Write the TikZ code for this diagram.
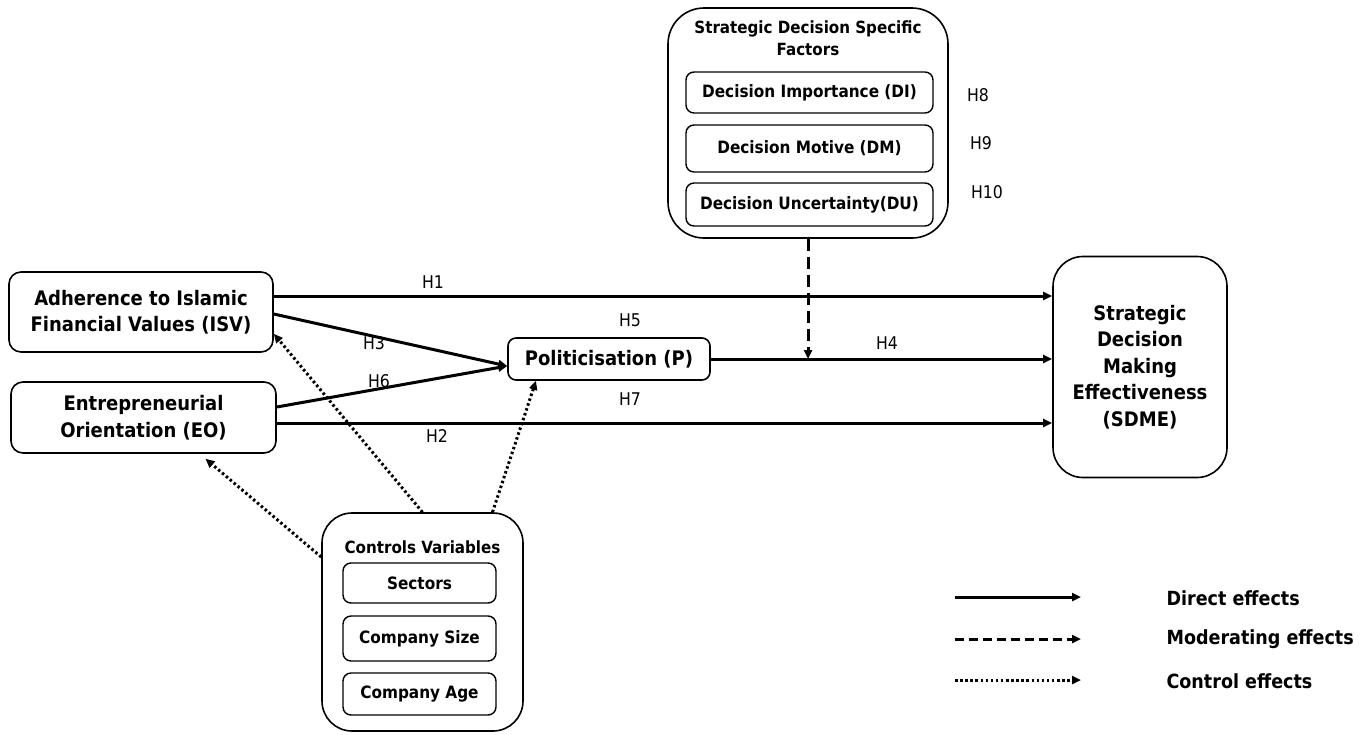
\documentclass[tikz,border=0pt]{standalone}
\usepackage{fontspec}
\setmainfont{DejaVu Sans Condensed}
\usetikzlibrary{arrows.meta}
\begin{document}
\begin{tikzpicture}[x=1pt,y=-1pt,
  big/.style={draw,line width=1.6pt,rounded corners=12pt,align=center,
    font=\bfseries\fontsize{20}{26.5}\selectfont,inner sep=0pt},
  outer/.style={draw,line width=1.6pt,rounded corners=36pt,inner sep=0pt},
  inner/.style={draw,line width=1.4pt,rounded corners=8pt,align=center,
    font=\bfseries\fontsize{17}{20}\selectfont,inner sep=0pt},
  hyp/.style={font=\fontsize{17.5}{20}\selectfont},
  title/.style={align=center,font=\bfseries\fontsize{16.8}{22}\selectfont},
  legtext/.style={anchor=west,font=\bfseries\fontsize{19.5}{22}\selectfont},
  tip/.style={-{Triangle[length=9pt,width=8pt]}},
  direct/.style={line width=3pt,tip},
  moderate/.style={line width=3pt,dash pattern=on 12pt off 6pt,tip},
  control/.style={line width=3pt,dash pattern=on 2.5pt off 2.6pt,tip}]
\useasboundingbox (0,0) rectangle (1370,734);

% construct boxes
\node[big,minimum width=264pt,minimum height=80pt] (isv) at (141,312)
  {Adherence to Islamic\\Financial Values (ISV)};
\node[big,minimum width=265pt,minimum height=71pt] (eo) at (143.5,417.5)
  {Entrepreneurial\\Orientation (EO)};
\node[big,minimum width=202pt,minimum height=42pt,rounded corners=8pt] (p) at (609,359)
  {Politicisation (P)};
\node[big,minimum width=174pt,minimum height=221pt,rounded corners=30pt] (sdme) at (1140,367)
  {Strategic\\Decision\\Making\\Effectiveness\\(SDME)};

% strategic decision specific factors
\node[outer,minimum width=280pt,minimum height=230pt] (sdsf) at (808,123) {};
\node[title] (sdsfTitle) at (808,38) {Strategic Decision Specific\\Factors};
\node[inner,minimum width=247pt,minimum height=41pt] (di) at (809.5,92.5) {Decision Importance (DI)};
\node[inner,minimum width=247pt,minimum height=47pt] (dm) at (809.5,148.5) {Decision Motive (DM)};
\node[inner,minimum width=247pt,minimum height=43pt] (du) at (809.5,204.5) {Decision Uncertainty(DU)};
\node[hyp] (h8) at (978,95) {H8};
\node[hyp] (h9) at (981,143) {H9};
\node[hyp] (h10) at (987,192) {H10};

% control variables
\node[outer,minimum width=201pt,minimum height=218pt,rounded corners=30pt] (ctrl) at (422.5,622) {};
\node[title] (ctrlTitle) at (422.5,547) {Controls Variables};
\node[inner,minimum width=153pt,minimum height=40pt] (sec) at (419.5,583) {Sectors};
\node[inner,minimum width=153pt,minimum height=45pt] (size) at (419.5,638.5) {Company Size};
\node[inner,minimum width=153pt,minimum height=42pt] (age) at (419.5,694) {Company Age};

% direct effects
\coordinate (h1s) at ([yshift=16pt]isv.east);
\draw[direct] (h1s) -- (h1s -| sdme.west);
\coordinate (h2s) at ([yshift=-5.5pt]eo.east);
\draw[direct] (h2s) -- (h2s -| sdme.west);
\coordinate (pin) at ([yshift=-7pt]p.west);
\draw[direct] ([yshift=-2pt]isv.east) -- (pin);
\draw[direct] ([yshift=10.5pt]eo.east) -- (pin);
\draw[direct] (p.east) -- (p.east -| sdme.west);

% moderating effect
\coordinate (ms) at (sdsf.south);
\draw[moderate] (ms) -- (ms |- p.east);

% control effects
\draw[control] (ctrl.north) -- ([yshift=19pt]isv.south east);
\draw[control] ([xshift=70pt]ctrl.north) -- ([xshift=-73pt]p.south);
\draw[control] ([yshift=65pt]ctrl.west) -- ([xshift=62pt,yshift=-5pt]eo.south);

% hypothesis labels
\node[hyp] (lh1) at (433,282) {H1};
\node[hyp] (lh3) at (374,343) {H3};
\node[hyp] (lh6) at (379,381) {H6};
\node[hyp] (lh2) at (437,436) {H2};
\node[hyp] (lh5) at (630,320) {H5};
\node[hyp] (lh4) at (887,343) {H4};
\node[hyp] (lh7) at (630,399) {H7};

% legend
\coordinate (la1) at (955,597); \coordinate (lb1) at (1081,597);
\coordinate (la2) at (955,639); \coordinate (lb2) at (1081,639);
\coordinate (la3) at (955,680); \coordinate (lb3) at (1081,680);
\draw[direct] (la1) -- (lb1);
\draw[moderate,dash pattern=on 9pt off 5pt] (la2) -- (lb2);
\draw[control] (la3) -- (lb3);
\node[legtext] (t1) at (1163,598) {Direct effects};
\node[legtext] (t2) at (1163,639) {Moderating effects};
\node[legtext] (t3) at (1163,681) {Control effects};
\end{tikzpicture}
\end{document}
